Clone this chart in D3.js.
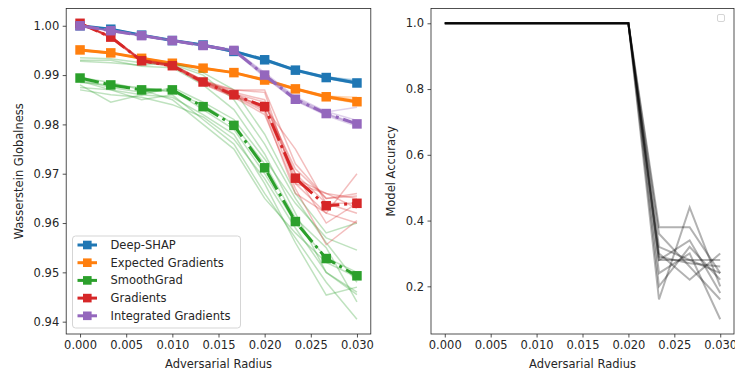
<!DOCTYPE html>
<html>
<head>
<meta charset="utf-8">
<script src="https://cdn.jsdelivr.net/npm/d3@7"></script>
<style>
  body { margin: 0; background: #fff; }
  svg { display: block; font-family: "DejaVu Sans", sans-serif; }
  .tick text { font-size: 11.5px; fill: #262626; }
  .tick line { stroke: #262626; }
  .domain { stroke: #262626; }
</style>
</head>
<body>
<svg id="chart" width="735" height="371"></svg>
<script>
// adversarial radius values (x)
const radii = [0, 0.00333, 0.00667, 0.01, 0.01333, 0.01667, 0.02, 0.02333, 0.02667, 0.03];

const methodNames = ["Deep-SHAP", "Expected Gradients", "SmoothGrad", "Gradients", "Integrated Gradients"];

// mean curves
const meanDeepShap = [1.0000, 0.9993, 0.9981, 0.9970, 0.9961, 0.9948, 0.9931, 0.9910, 0.9895, 0.9884];
const meanExpected = [0.9951, 0.9945, 0.9934, 0.9924, 0.9914, 0.9905, 0.9890, 0.9872, 0.9856, 0.9846];
const meanSmooth   = [0.9894, 0.9880, 0.9870, 0.9870, 0.9836, 0.9798, 0.9712, 0.9603, 0.9528, 0.9493];
const meanGrad     = [1.0005, 0.9977, 0.9929, 0.9919, 0.9886, 0.9860, 0.9836, 0.9691, 0.9635, 0.9640];
const meanIG       = [1.0000, 0.9990, 0.9980, 0.9970, 0.9960, 0.9950, 0.9900, 0.9851, 0.9822, 0.9801];

// individual runs
const runsDeepShap = [
  [1.0000, 0.9994, 0.9982, 0.9971, 0.9962, 0.9950, 0.9933, 0.9912, 0.9897, 0.9887],
  [1.0000, 0.9992, 0.9980, 0.9969, 0.9960, 0.9946, 0.9929, 0.9908, 0.9893, 0.9882],
  [1.0000, 0.9993, 0.9981, 0.9970, 0.9961, 0.9949, 0.9932, 0.9911, 0.9896, 0.9890],
  [1.0000, 0.9993, 0.9980, 0.9971, 0.9960, 0.9947, 0.9930, 0.9909, 0.9894, 0.9883],
  [1.0000, 0.9992, 0.9982, 0.9969, 0.9962, 0.9948, 0.9931, 0.9910, 0.9896, 0.9885],
  [1.0000, 0.9994, 0.9981, 0.9970, 0.9961, 0.9949, 0.9932, 0.9911, 0.9894, 0.9886]
];
const runsExpected = [
  [0.9952, 0.9946, 0.9935, 0.9925, 0.9915, 0.9906, 0.9892, 0.9874, 0.9858, 0.9850],
  [0.9950, 0.9944, 0.9933, 0.9923, 0.9913, 0.9904, 0.9888, 0.9870, 0.9854, 0.9843],
  [0.9951, 0.9945, 0.9934, 0.9924, 0.9914, 0.9905, 0.9891, 0.9873, 0.9857, 0.9855],
  [0.9951, 0.9946, 0.9933, 0.9925, 0.9913, 0.9906, 0.9889, 0.9871, 0.9855, 0.9844],
  [0.9950, 0.9944, 0.9935, 0.9923, 0.9915, 0.9904, 0.9890, 0.9872, 0.9856, 0.9847],
  [0.9952, 0.9945, 0.9934, 0.9924, 0.9914, 0.9905, 0.9890, 0.9873, 0.9857, 0.9845]
];
const runsSmooth = [
  [0.9935, 0.9933, 0.9925, 0.9922, 0.9900, 0.9850, 0.9760, 0.9650, 0.9560, 0.9480],
  [0.9930, 0.9930, 0.9918, 0.9915, 0.9880, 0.9830, 0.9740, 0.9620, 0.9500, 0.9460],
  [0.9928, 0.9925, 0.9920, 0.9925, 0.9905, 0.9870, 0.9780, 0.9660, 0.9580, 0.9600],
  [0.9890, 0.9875, 0.9865, 0.9870, 0.9830, 0.9790, 0.9700, 0.9600, 0.9530, 0.9500],
  [0.9880, 0.9845, 0.9860, 0.9855, 0.9820, 0.9780, 0.9680, 0.9560, 0.9454, 0.9470],
  [0.9875, 0.9870, 0.9850, 0.9860, 0.9810, 0.9760, 0.9660, 0.9570, 0.9480, 0.9405],
  [0.9885, 0.9880, 0.9875, 0.9865, 0.9840, 0.9800, 0.9720, 0.9610, 0.9550, 0.9440],
  [0.9895, 0.9885, 0.9870, 0.9850, 0.9800, 0.9750, 0.9650, 0.9580, 0.9520, 0.9490],
  [0.9888, 0.9870, 0.9860, 0.9875, 0.9845, 0.9810, 0.9730, 0.9640, 0.9570, 0.9545],
  [0.9870, 0.9860, 0.9855, 0.9840, 0.9815, 0.9770, 0.9690, 0.9590, 0.9500, 0.9455]
];
const runsGrad = [
  [1.0005, 0.9978, 0.9930, 0.9920, 0.9890, 0.9865, 0.9850, 0.9700, 0.9640, 0.9640],
  [1.0005, 0.9975, 0.9928, 0.9918, 0.9885, 0.9870, 0.9870, 0.9720, 0.9650, 0.9655],
  [1.0005, 0.9978, 0.9932, 0.9922, 0.9888, 0.9858, 0.9830, 0.9680, 0.9620, 0.9700],
  [1.0004, 0.9977, 0.9929, 0.9919, 0.9882, 0.9855, 0.9820, 0.9670, 0.9556, 0.9605],
  [1.0005, 0.9979, 0.9930, 0.9920, 0.9887, 0.9862, 0.9845, 0.9690, 0.9660, 0.9630],
  [1.0005, 0.9976, 0.9927, 0.9917, 0.9884, 0.9860, 0.9835, 0.9750, 0.9640, 0.9620],
  [1.0005, 0.9978, 0.9929, 0.9921, 0.9889, 0.9870, 0.9865, 0.9680, 0.9660, 0.9650],
  [1.0004, 0.9977, 0.9931, 0.9919, 0.9886, 0.9858, 0.9825, 0.9660, 0.9620, 0.9600],
  [1.0005, 0.9978, 0.9928, 0.9918, 0.9883, 0.9856, 0.9840, 0.9710, 0.9650, 0.9660],
  [1.0005, 0.9977, 0.9930, 0.9920, 0.9888, 0.9864, 0.9830, 0.9700, 0.9600, 0.9640]
];
const runsIG = [
  [1.0000, 0.9991, 0.9981, 0.9971, 0.9961, 0.9952, 0.9905, 0.9856, 0.9826, 0.9808],
  [1.0000, 0.9989, 0.9979, 0.9969, 0.9959, 0.9948, 0.9896, 0.9848, 0.9818, 0.9796],
  [1.0000, 0.9990, 0.9980, 0.9970, 0.9960, 0.9951, 0.9902, 0.9853, 0.9825, 0.9835],
  [1.0000, 0.9990, 0.9980, 0.9970, 0.9960, 0.9949, 0.9898, 0.9850, 0.9820, 0.9799],
  [1.0000, 0.9991, 0.9981, 0.9971, 0.9961, 0.9950, 0.9901, 0.9852, 0.9822, 0.9802],
  [1.0000, 0.9989, 0.9979, 0.9969, 0.9959, 0.9949, 0.9899, 0.9849, 0.9821, 0.9800]
];

// model accuracy runs (right panel)
const accuracyRuns = [
  [1, 1, 1, 1, 1, 1, 1, 0.38, 0.38, 0.24],
  [1, 1, 1, 1, 1, 1, 1, 0.16, 0.44, 0.20],
  [1, 1, 1, 1, 1, 1, 1, 0.28, 0.28, 0.28],
  [1, 1, 1, 1, 1, 1, 1, 0.28, 0.34, 0.18],
  [1, 1, 1, 1, 1, 1, 1, 0.30, 0.22, 0.30],
  [1, 1, 1, 1, 1, 1, 1, 0.24, 0.30, 0.10],
  [1, 1, 1, 1, 1, 1, 1, 0.20, 0.32, 0.22],
  [1, 1, 1, 1, 1, 1, 1, 0.36, 0.26, 0.16],
  [1, 1, 1, 1, 1, 1, 1, 0.29, 0.27, 0.26],
  [1, 1, 1, 1, 1, 1, 1, 0.32, 0.28, 0.24]
];

const xTicks = [0, 0.005, 0.01, 0.015, 0.02, 0.025, 0.03];
const leftYTicks = [0.94, 0.95, 0.96, 0.97, 0.98, 0.99, 1.00];
const rightYTicks = [0.2, 0.4, 0.6, 0.8, 1.0];

const colors = ["#1f77b4", "#ff7f0e", "#2ca02c", "#d62728", "#9467bd"];
const dashed = [false, false, true, true, true];
const means = [meanDeepShap, meanExpected, meanSmooth, meanGrad, meanIG];
const runs = [runsDeepShap, runsExpected, runsSmooth, runsGrad, runsIG];

const svg = d3.select("#chart");
const axTop = 8.5, axBottom = 334;

// left panel scales
const xL = d3.scaleLinear().domain([-0.0015, 0.0315]).range([66.2, 370.8]);
const yL = d3.scaleLinear().domain([0.9375, 1.0035]).range([axBottom, axTop]);
// right panel scales
const xR = d3.scaleLinear().domain([-0.0015, 0.0315]).range([431, 734]);
const yR = d3.scaleLinear().domain([0.055, 1.045]).range([axBottom, axTop]);

function drawAxes(x, y, yTicks, yFmt, yLabel, yLabelX) {
  const g = svg.append("g");
  g.append("g")
    .attr("transform", `translate(0,${axBottom})`)
    .call(d3.axisBottom(x).tickValues(xTicks).tickFormat(d3.format(".3f")).tickSize(3.5).tickPadding(3.5))
    .call(a => a.select(".domain").remove());
  g.append("g")
    .attr("transform", `translate(${x.range()[0]},0)`)
    .call(d3.axisLeft(y).tickValues(yTicks).tickFormat(d3.format(yFmt)).tickSize(3.5).tickPadding(3.5))
    .call(a => a.select(".domain").remove());
  g.selectAll(".tick text").attr("font-family", "DejaVu Sans");
  g.selectAll(".tick line").attr("stroke-width", 0.8);

  // spines
  g.append("rect")
    .attr("x", x.range()[0]).attr("y", axTop)
    .attr("width", x.range()[1] - x.range()[0]).attr("height", axBottom - axTop)
    .attr("fill", "none").attr("stroke", "#262626").attr("stroke-width", 0.8);

  g.append("text")
    .attr("x", (x.range()[0] + x.range()[1]) / 2).attr("y", 368)
    .attr("text-anchor", "middle").attr("font-size", 11.5).attr("fill", "#262626")
    .text("Adversarial Radius");
  g.append("text")
    .attr("transform", `translate(${yLabelX},${(axTop + axBottom) / 2}) rotate(-90)`)
    .attr("text-anchor", "middle").attr("dy", "0.35em").attr("font-size", 11.5).attr("fill", "#262626")
    .text(yLabel);
}

// ---- left panel ----
const lineL = d3.line().x((d, i) => xL(radii[i])).y(d => yL(d));
const plotL = svg.append("g");

methodNames.forEach((name, m) => {
  runs[m].forEach(r => {
    plotL.append("path")
      .attr("d", lineL(r))
      .attr("fill", "none")
      .attr("stroke", colors[m])
      .attr("stroke-opacity", 0.3)
      .attr("stroke-width", 1.5);
  });
  plotL.append("path")
    .attr("d", lineL(means[m]))
    .attr("fill", "none")
    .attr("stroke", colors[m])
    .attr("stroke-width", 3)
    .attr("stroke-dasharray", dashed[m] ? "19.2,4.8,3,4.8" : null);
  plotL.selectAll(null)
    .data(means[m])
    .enter().append("rect")
    .attr("x", (d, i) => xL(radii[i]) - 4.75)
    .attr("y", d => yL(d) - 4.75)
    .attr("width", 9.5).attr("height", 9.5)
    .attr("fill", colors[m]);
});

drawAxes(xL, yL, leftYTicks, ".2f", "Wasserstein Globalness", 19);

// legend
const leg = svg.append("g");
leg.append("rect")
  .attr("x", 72.5).attr("y", 236).attr("width", 168).attr("height", 92).attr("rx", 3)
  .attr("fill", "#fff").attr("fill-opacity", 0.8).attr("stroke", "#d5d5d5").attr("stroke-width", 1);
methodNames.forEach((name, m) => {
  const cy = 245 + m * 17.7;
  leg.append("line").attr("x1", 77.5).attr("x2", 97).attr("y1", cy).attr("y2", cy)
    .attr("stroke", colors[m]).attr("stroke-width", 3);
  leg.append("rect").attr("x", 87.3 - 4.3).attr("y", cy - 4.3).attr("width", 8.6).attr("height", 8.6)
    .attr("fill", colors[m]);
  leg.append("text").attr("x", 110.5).attr("y", cy).attr("dy", "0.35em")
    .attr("font-size", 11.5).attr("fill", "#262626").text(name);
});

// ---- right panel ----
const lineR = d3.line().x((d, i) => xR(radii[i])).y(d => yR(d));
const plotR = svg.append("g");
accuracyRuns.forEach(r => {
  plotR.append("path")
    .attr("d", lineR(r))
    .attr("fill", "none")
    .attr("stroke", "#000")
    .attr("stroke-opacity", 0.3)
    .attr("stroke-width", 2);
});

drawAxes(xR, yR, rightYTicks, ".1f", "Model Accuracy", 391);

// empty legend box
svg.append("rect")
  .attr("x", 717.5).attr("y", 14.5).attr("width", 7).attr("height", 7).attr("rx", 1.5)
  .attr("fill", "#fff").attr("stroke", "#d5d5d5").attr("stroke-width", 1);
</script>
</body>
</html>
